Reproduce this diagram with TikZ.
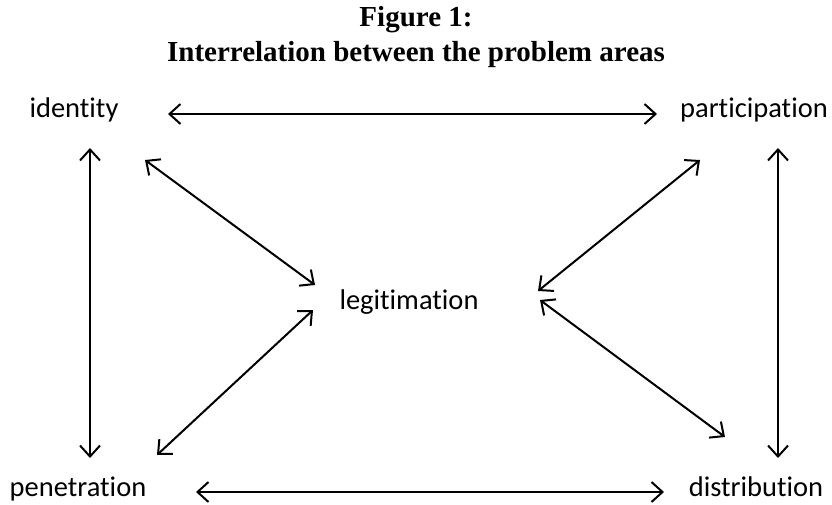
\documentclass[tikz,border=0pt]{standalone}
\usepackage{fontspec}
\setmainfont[Ligatures=NoCommon]{Carlito}
\newfontfamily\titlefont{Liberation Serif}
\usetikzlibrary{arrows.meta}
\begin{document}
\begin{tikzpicture}[x=1pt,y=-1pt,
  lbl/.style={font=\fontsize{28.5}{32}\selectfont, inner sep=0pt, anchor=base},
  ttl/.style={font=\titlefont\bfseries\fontsize{29}{32}\selectfont, inner sep=0pt, anchor=base},
  link/.style={line width=2pt, {Straight Barb[length=11pt,width=20pt,line width=2pt]}-{Straight Barb[length=11pt,width=20pt,line width=2pt]}}]
\useasboundingbox (0,0) rectangle (832,505);
\node[ttl] (t1) at (416,27) {Figure 1:};
\node[ttl] (t2) at (416,62) {Interrelation between the problem areas};
\node[lbl] (id) at (74,118) {identity};
\node[lbl] (pa) at (754,118) {participation};
\node[lbl] (le) at (409,309) {legitimation};
\node[lbl] (pe) at (78,496) {penetration};
\node[lbl] (di) at (756,496) {distribution};
\coordinate (a1) at (168,114); \coordinate (a2) at (657,114);
\coordinate (b1) at (196,492); \coordinate (b2) at (664,492);
\coordinate (c1) at (90,148); \coordinate (c2) at (90,458);
\coordinate (d1) at (778,148); \coordinate (d2) at (778,458);
\coordinate (e1) at (145,160); \coordinate (e2) at (315,285);
\coordinate (f1) at (700,160); \coordinate (f2) at (538,291);
\coordinate (g1) at (313,310); \coordinate (g2) at (157,455);
\coordinate (h1) at (540,300); \coordinate (h2) at (725,437);
\draw[link] (a1) -- (a2);
\draw[link] (b1) -- (b2);
\draw[link] (c1) -- (c2);
\draw[link] (d1) -- (d2);
\draw[link] (e1) -- (e2);
\draw[link] (f1) -- (f2);
\draw[link] (g1) -- (g2);
\draw[link] (h1) -- (h2);
\end{tikzpicture}
\end{document}
